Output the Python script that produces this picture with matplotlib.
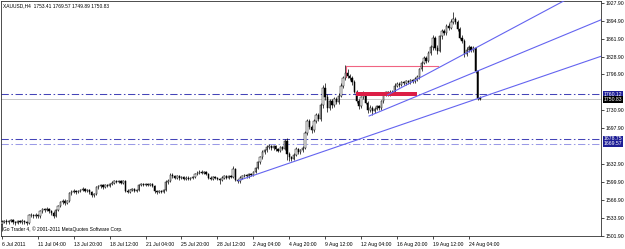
import matplotlib
matplotlib.use("Agg")
import matplotlib.pyplot as plt
import matplotlib.transforms as mtransforms
import numpy as np

plt.rcParams['font.family'] = ['Liberation Sans', 'DejaVu Sans']

# XAUUSD H4, one value per bar (6 Jul 2011 12:00 -> 24 Aug 2011)
first_open = 1524
close = [
    1527, 1529, 1526, 1528, 1530, 1527, 1525, 1528, 1527, 1529, 1526, 1525, 1539, 1540, 1538, 1540,
    1537, 1546, 1550, 1548, 1551, 1547, 1543, 1538, 1548, 1556, 1563, 1566, 1561, 1565, 1579, 1582,
    1584, 1581, 1583, 1586, 1587, 1584, 1586, 1582, 1576, 1578, 1590, 1592, 1594, 1591, 1595, 1593,
    1596, 1599, 1601, 1600, 1602, 1599, 1601, 1584, 1582, 1585, 1587, 1584, 1586, 1594, 1597, 1595,
    1597, 1594, 1596, 1593, 1583, 1581, 1584, 1582, 1585, 1600, 1602, 1613, 1610, 1608, 1610, 1607,
    1609, 1606, 1608, 1605, 1607, 1609, 1615, 1617, 1619, 1616, 1618, 1615, 1608, 1606, 1609, 1607,
    1605, 1603, 1608, 1610, 1608, 1611, 1609, 1624, 1604, 1601, 1608, 1611, 1613, 1610, 1614, 1612,
    1618, 1626, 1636, 1645, 1655, 1658, 1664, 1666, 1662, 1665, 1660, 1657, 1663, 1661, 1675, 1652,
    1645, 1642, 1650, 1660, 1655, 1658, 1662, 1690, 1712, 1700, 1695, 1712, 1722, 1715, 1740, 1772,
    1755, 1735, 1748, 1740, 1752, 1746, 1758, 1776, 1790, 1800, 1794, 1790, 1782, 1765, 1748, 1738,
    1755, 1762, 1745, 1732, 1736, 1730, 1734, 1738, 1735, 1748, 1760, 1764, 1761, 1765, 1763, 1776,
    1779, 1777, 1782, 1780, 1784, 1782, 1786, 1784, 1788, 1792, 1806, 1818, 1826, 1822, 1836, 1846,
    1864, 1845, 1840, 1866, 1876, 1872, 1886, 1882, 1893, 1897, 1892, 1880, 1864, 1858, 1834, 1842,
    1846, 1841, 1845, 1802, 1753.41, 1750.83,
]
high = [
    1530, 1531, 1532, 1530, 1533, 1532, 1529, 1530, 1531, 1532, 1531, 1528, 1542, 1543, 1542, 1543,
    1542, 1548, 1553, 1552, 1554, 1553, 1549, 1546, 1550, 1558, 1566, 1569, 1568, 1567, 1581, 1585,
    1587, 1586, 1585, 1588, 1590, 1589, 1588, 1588, 1584, 1580, 1592, 1594, 1597, 1596, 1597, 1597,
    1598, 1601, 1603, 1603, 1604, 1604, 1603, 1603, 1587, 1587, 1589, 1589, 1588, 1596, 1599, 1599,
    1599, 1599, 1598, 1598, 1595, 1586, 1586, 1586, 1587, 1603, 1605, 1617, 1616, 1612, 1612, 1612,
    1611, 1611, 1610, 1610, 1609, 1611, 1617, 1620, 1622, 1621, 1620, 1620, 1617, 1610, 1611, 1611,
    1609, 1607, 1610, 1612, 1612, 1613, 1613, 1630, 1626, 1606, 1610, 1613, 1615, 1615, 1616, 1616,
    1620, 1628, 1639, 1648, 1658, 1661, 1667, 1670, 1668, 1668, 1667, 1662, 1666, 1665, 1678, 1681,
    1655, 1648, 1653, 1663, 1662, 1661, 1665, 1693, 1716, 1715, 1704, 1715, 1726, 1726, 1744, 1778,
    1780, 1760, 1752, 1752, 1756, 1755, 1762, 1780, 1794, 1813, 1806, 1798, 1794, 1786, 1768, 1752,
    1758, 1766, 1765, 1748, 1740, 1739, 1737, 1741, 1741, 1750, 1763, 1767, 1767, 1768, 1768, 1780,
    1782, 1782, 1785, 1785, 1787, 1787, 1789, 1789, 1791, 1795, 1809, 1822, 1830, 1830, 1840, 1850,
    1868, 1867, 1850, 1869, 1879, 1880, 1889, 1890, 1897, 1911, 1902, 1896, 1884, 1868, 1862, 1846,
    1850, 1849, 1848, 1847, 1805, 1757,
]
low = [
    1510, 1525, 1524, 1524, 1526, 1524, 1522, 1523, 1525, 1524, 1523, 1522, 1523, 1536, 1535, 1535,
    1534, 1535, 1544, 1545, 1546, 1544, 1540, 1535, 1536, 1546, 1554, 1560, 1558, 1559, 1563, 1576,
    1579, 1578, 1579, 1581, 1583, 1581, 1582, 1578, 1572, 1573, 1576, 1587, 1589, 1588, 1589, 1590,
    1591, 1594, 1597, 1598, 1598, 1597, 1597, 1581, 1579, 1580, 1583, 1581, 1582, 1584, 1592, 1592,
    1593, 1592, 1592, 1590, 1580, 1578, 1579, 1579, 1580, 1583, 1597, 1600, 1607, 1605, 1605, 1604,
    1605, 1604, 1604, 1603, 1603, 1605, 1607, 1613, 1614, 1614, 1614, 1612, 1605, 1603, 1604, 1605,
    1603, 1597, 1601, 1606, 1606, 1606, 1607, 1607, 1601, 1598, 1599, 1606, 1609, 1608, 1608, 1610,
    1610, 1616, 1623, 1633, 1642, 1652, 1655, 1661, 1659, 1659, 1657, 1654, 1654, 1658, 1659, 1640,
    1638, 1638, 1640, 1648, 1652, 1652, 1655, 1660, 1686, 1696, 1690, 1692, 1708, 1711, 1712, 1736,
    1750, 1727, 1731, 1736, 1737, 1742, 1743, 1755, 1772, 1786, 1790, 1786, 1778, 1762, 1744, 1733,
    1735, 1752, 1742, 1726, 1728, 1723, 1726, 1731, 1732, 1732, 1745, 1757, 1758, 1758, 1760, 1760,
    1773, 1774, 1775, 1777, 1777, 1779, 1779, 1781, 1781, 1785, 1789, 1803, 1815, 1818, 1819, 1832,
    1842, 1841, 1834, 1837, 1862, 1869, 1869, 1878, 1879, 1889, 1888, 1876, 1861, 1854, 1828, 1830,
    1838, 1838, 1837, 1800, 1749, 1749.89,
]

date_ticks = [0, 16, 32, 48, 64, 80, 96, 112, 128, 144, 160, 176, 192, 208]
date_labels = ['6 Jul 2011', '11 Jul 04:00', '13 Jul 20:00', '18 Jul 12:00', '21 Jul 04:00',
               '25 Jul 20:00', '28 Jul 12:00', '2 Aug 04:00', '4 Aug 20:00', '9 Aug 12:00',
               '12 Aug 04:00', '16 Aug 20:00', '19 Aug 12:00', '24 Aug 04:00']
price_ticks = [1927.90, 1894.90, 1861.90, 1828.90, 1796.90, 1730.90, 1697.90,
               1632.90, 1599.90, 1566.90, 1533.90, 1501.90]

level_values = [1760.12, 1678.75, 1669.57]
level_colors = ['#4444b8', '#4444b8', '#9a9ae6']
bid_price = 1750.83

# trend lines as rays: (start bar, start price), (bar, price) further along
trend_lines = [((105.2, 1602.3), (142.1, 1654.2)),
               ((163.6, 1720.6), (211.9, 1802.8)),
               ((171.8, 1759.0), (249.9, 1930.0))]

# resistance marker and highlighted zone
resist_bars = [153.2, 194.2]
resist_price = 1812
resist_drop = 1792
zone_bars = [157.7, 185.1]
zone_prices = [1757.7, 1764.5]

title_text = 'XAUUSD,H4  1753.41 1769.57 1749.89 1750.83'
footer_text = 'Go Trader 4, \u00a9 2001-2011 MetaQuotes Software Corp.'

fig = plt.figure(figsize=(6.25, 2.49), dpi=100)
ax = fig.add_axes([1 / 625, 13 / 249, 600 / 625, 235 / 249])

xmin, xmax = -0.4, 266.9
ax.set_xlim(xmin, xmax)
ax.set_ylim(1501.2, 1930.8)

c = np.array(close, dtype=float)
o = np.r_[first_open, c[:-1]]
h = np.array(high, dtype=float)
l = np.array(low, dtype=float)
x = np.arange(len(c))
up = c >= o

# horizontal levels first (behind candles)
for val, col in zip(level_values, level_colors):
    ax.axhline(val, color=col, lw=0.75, dashes=(7, 2.5, 1.5, 2.5), zorder=1)
ax.axhline(bid_price, color='#c8c8c8', lw=0.7, zorder=1)

# candles
ax.vlines(x, l, h, color='black', lw=0.5, zorder=3)
body_lo = np.minimum(o, c)
body_h = np.maximum(np.abs(c - o), 0.6)
ax.bar(x[up], body_h[up], bottom=body_lo[up], width=0.6,
       color='white', edgecolor='black', lw=0.35, zorder=4)
ax.bar(x[~up], body_h[~up], bottom=body_lo[~up], width=0.6,
       color='black', edgecolor='black', lw=0.35, zorder=4)

# red zone and pink resistance line
ax.fill_between(zone_bars, zone_prices[0], zone_prices[1], color='#dc1e46', lw=0, zorder=5)
ax.plot(resist_bars, [resist_price, resist_price], color='#f06482', lw=0.8, zorder=2)
ax.plot([resist_bars[0], resist_bars[0]], [resist_price, resist_drop], color='#f06482', lw=0.8, zorder=2)

# trend rays
for (x1, y1), (x2, y2) in trend_lines:
    slope = (y2 - y1) / (x2 - x1)
    ax.plot([x1, xmax], [y1, y1 + slope * (xmax - x1)], color='#6464f0', lw=0.8, zorder=6)

# axes styling
for side in ['left', 'bottom', 'right', 'top']:
    ax.spines[side].set_color('#303030')
    ax.spines[side].set_linewidth(0.6)

ax.yaxis.tick_right()
ax.set_yticks(price_ticks)
ax.set_yticklabels(['%.2f' % v for v in price_ticks])
ax.tick_params(axis='y', length=2.5, width=0.5, pad=1, labelsize=3.7)
ax.set_xticks(date_ticks)
ax.set_xticklabels(date_labels, ha='left')
ax.tick_params(axis='x', length=2.5, width=0.5, pad=1.5, labelsize=3.7)

trans = mtransforms.blended_transform_factory(ax.transAxes, ax.transData)
for val in level_values:
    ax.text(1.004, val, '%.2f' % val, transform=trans, fontsize=3.7, color='white',
            va='center', ha='left', zorder=10,
            bbox=dict(boxstyle='square,pad=0.15', fc='#1e1e96', ec='none'))
ax.text(1.004, bid_price, '%.2f' % bid_price, transform=trans, fontsize=3.7, color='white',
        va='center', ha='left', zorder=10,
        bbox=dict(boxstyle='square,pad=0.15', fc='black', ec='none'))

ax.text(0.004, 0.99, title_text, transform=ax.transAxes, fontsize=3.5, va='top', ha='left')
ax.text(0.004, 0.03, footer_text, transform=ax.transAxes, fontsize=3.5, va='center', ha='left')

fig.savefig('out.png', dpi=100)
